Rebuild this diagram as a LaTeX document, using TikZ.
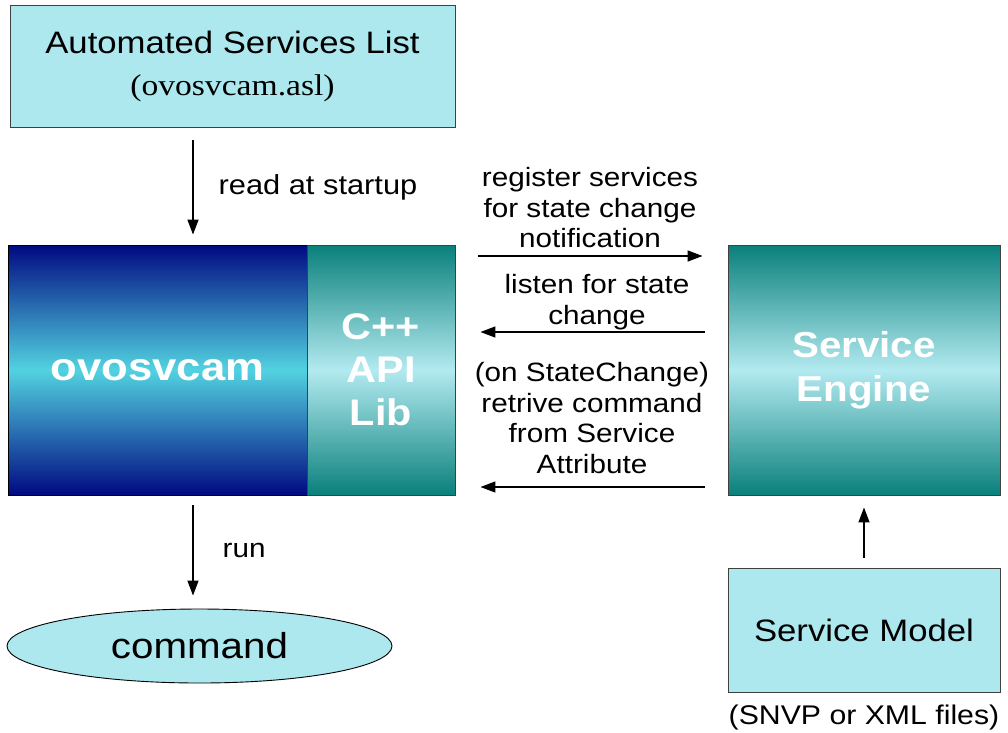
\documentclass[tikz,border=0pt]{standalone}
\usepackage{fontspec}
\setmainfont[FakeStretch=1.12]{Liberation Sans}
\newfontfamily\filefont[FakeStretch=1.12]{Liberation Serif}
\usetikzlibrary{arrows.meta}
\usetikzlibrary{shapes.geometric}
\usetikzlibrary{positioning}

\definecolor{paleblue}{HTML}{ACE8EE}
\definecolor{navyblue}{HTML}{000A82}
\definecolor{midcyan}{HTML}{52D2E0}
\definecolor{darkteal}{HTML}{0A807B}
\definecolor{paleteal}{HTML}{B2EAF0}

\tikzset{
  listbox/.style={draw=black!75, fill=paleblue, line width=0.9pt, inner sep=0pt, align=center},
  camblock/.style={draw=black, line width=0.9pt, top color=navyblue, bottom color=navyblue,
    middle color=midcyan, text=white, inner sep=0pt, align=center},
  engblock/.style={draw=black!75, line width=0.9pt, top color=darkteal, bottom color=darkteal,
    middle color=paleteal, text=white, inner sep=0pt, align=center},
  flow/.style={-{Triangle[length=15pt,width=11pt]}, line width=1.4pt},
  note/.style={font=\fontsize{26.5}{30.5}\selectfont, align=center, inner sep=0pt}
}

\begin{document}
\begin{tikzpicture}[x=1pt,y=-1pt]

	\useasboundingbox (0,0) rectangle (1008,732);

	% Place nodes
	\node [listbox, minimum width=445pt, minimum height=122pt, font=\fontsize{31}{42}\selectfont] (asl) at (232.5,66)
		{Automated Services List\\ {\filefont\fontsize{30}{42}\selectfont (ovosvcam.asl)}};
	\node [camblock, minimum width=299pt, minimum height=250pt, font=\fontsize{39}{45}\selectfont\bfseries] (cam)
		at (157.5,370) {ovosvcam};
	\node [engblock, minimum width=148pt, minimum height=250pt, font=\fontsize{37}{43}\selectfont\bfseries] (lib)
		at (381,370) {C++\\API\\Lib};
	\node [engblock, minimum width=272pt, minimum height=250pt, font=\fontsize{36}{44}\selectfont\bfseries] (engine)
		at (864,370) {Service\\Engine};
	\node [listbox, minimum width=272pt, minimum height=124pt, font=\fontsize{31}{36}\selectfont] (model)
		at (864,630) {Service Model};
	\node [note, font=\fontsize{27}{30}\selectfont, below=12pt of model] (files) {(SNVP or XML files)};
	\node [ellipse, draw=black, line width=0.9pt, fill=paleblue, minimum width=385pt, minimum height=74pt,
		inner sep=0pt, font=\fontsize{36}{40}\selectfont] (cmd) at (199.5,646) {command};

	% labels between the blocks
	\node [note] (register) at (590,208) {register services\\for state change\\notification};
	\node [note] (listen) at (597,302) {listen for state\\change};
	\node [note] (retrieve) at (592,418) {(on StateChange)\\retrive command\\from Service\\Attribute};

	% arrows
	\draw [flow] ([xshift=-39.5pt,yshift=-13pt]asl.south) -- ([xshift=35.5pt,yshift=10pt]cam.north)
		node [note, font=\fontsize{27.5}{30}\selectfont, midway, right=25pt] {read at startup};
	\draw [flow] ([xshift=35.5pt,yshift=-10pt]cam.south) -- ([xshift=-6.5pt,yshift=13pt]cmd.north)
		node [note, midway, right=29pt] {run};
	\draw [flow, shorten <=23pt, shorten >=25pt] (lib.east |- 0,256) -- (engine.west |- 0,256);
	\draw [flow, shorten <=23pt, shorten >=25pt] (engine.west |- 0,332) -- (lib.east |- 0,332);
	\draw [flow, shorten <=23pt, shorten >=25pt] (engine.west |- 0,487) -- (lib.east |- 0,487);
	\draw [flow] ([yshift=10pt]model.north) -- ([yshift=-12pt]engine.south);

\end{tikzpicture}
\end{document}
